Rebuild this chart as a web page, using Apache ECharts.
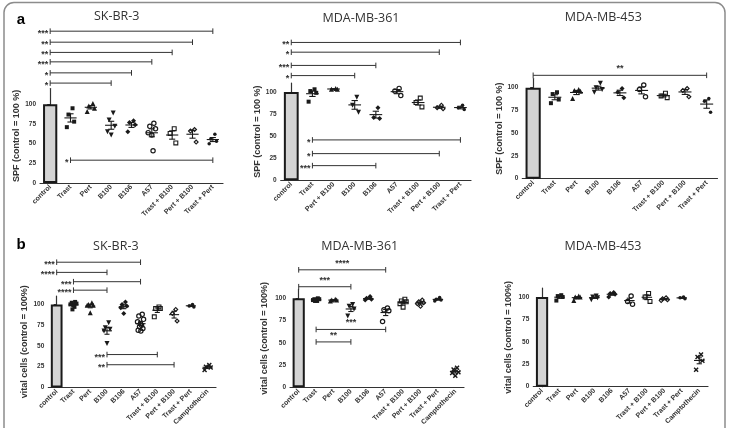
<!DOCTYPE html>
<html><head><meta charset="utf-8">
<script src="https://cdn.jsdelivr.net/npm/echarts@6/dist/echarts.min.js"></script>
<style>html,body{margin:0;padding:0;background:#fff}#c{width:729px;height:428px}</style>
</head><body><div id="c"></div>
<script>
// ---------- categories ----------
const catsSPF = ['control','Trast','Pert','B100','B106','A57','Trast + B100','Pert + B100','Trast + Pert'];
const catsSPF361 = ['control','Trast','Pert + B100','B100','B106','A57','Trast + B100','Pert + B100','Trast + Pert'];
const catsVital = ['control','Trast','Pert','B100','B106','A57','Trast + B100','Pert + B100','Trast + Pert','Camptothecin'];
const yTickValues = [0,25,50,75,100];
const controlValue = 100;

// ---------- replicate values per treatment (control excluded) ----------
const spfSKBR3 = [
  [95,87,78,71],
  [101,98,95,91],
  [89,80,72,65,61],
  [79,77,74,65],
  [76,72,69,64,61,41],
  [69,63,51],
  [68,66,52],
  [62,56,53,50]
];
const spfMDA361 = [
  [103,101,99,89],
  [104,103,103],
  [94,85,77],
  [82,71,70],
  [104,101,96],
  [93,88,83],
  [85,82,81],
  [85,82,80]
];
const spfMDA453 = [
  [95,93,87,83],
  [98,97,96,88],
  [105,100,98,95],
  [99,95,89],
  [103,98,90],
  [94,91,89],
  [99,97,90],
  [88,85,73]
];
const vitalSKBR3 = [
  [103,102,101,100,99,97,94],
  [102,100,99,99,90],
  [78,72,70,68,53],
  [103,100,98,96,89],
  [88,86,82,79,77,75,73,71,69,68],
  [97,95,95,85],
  [94,89,80],
  [100,98,97],
  [27,25,24,21]
];
const vitalMDA361 = [
  [100,99,99,98,98,97,97],
  [99,98,98,97],
  [93,91,88,80],
  [102,100,99,98],
  [89,87,86,74],
  [99,97,96,94,90],
  [98,96,95,94,91],
  [101,99,98,97],
  [22,20,17,16,13]
];
const vitalMDA453 = [
  [102,101,100,96],
  [101,100,100,96],
  [101,100,99,97],
  [105,104,103,100],
  [101,95,92],
  [104,100,95],
  [99,98,97,96],
  [100,99,98],
  [36,33,29,19]
];

// ---------- significance brackets: [from category, to category, level (axis units), stars] ----------
const sigSPF_SKBR3 = [[0,8,193,'***'],[0,7,179,'**'],[0,6,166,'**'],[0,5,154,'***'],[0,4,140,'*'],[0,3,127,'*'],[1,8,29,'*']];
const sigSPF_MDA361 = [[0,8,156,'**'],[0,7,145,'*'],[0,4,130,'***'],[0,3,118.5,'*'],[1,8,45.7,'*'],[1,7,30.2,'*'],[1,4,16.6,'***']];
const sigSPF_MDA453 = [[0,8,113.6,'**']];
const sigVital_SKBR3 = [[0,5,150,'***'],[0,3,138,'****'],[1,5,127,'***'],[1,3,117,'****'],[3,6,41,'***'],[3,7,29,'**']];
const sigVital_MDA361 = [[0,5,132,'****'],[0,3,113,'***'],[1,5,65,'***'],[1,3,51,'**']];
const sigVital_MDA453 = [];

// ---------- layout / style ----------
const panels = [
  {title:'SK-BR-3', cats:catsSPF, groups:spfSKBR3, sig:sigSPF_SKBR3, starMode:'left', yName:'SPF (control = 100 %)', max:120, left:40, right:223, y0:183, yTop:88.6, annTop:20, nameGap:17, tx:116.7, ty:16.2},
  {title:'MDA-MB-361', cats:catsSPF361, groups:spfMDA361, sig:sigSPF_MDA361, starMode:'left', yName:'SPF (control = 100 %)', max:110, left:280.7, right:471, y0:180.3, yTop:83.1, annTop:20, nameGap:18, tx:361, ty:18},
  {title:'MDA-MB-453', cats:catsSPF, groups:spfMDA453, sig:sigSPF_MDA453, starMode:'top', yName:'SPF (control = 100 %)', max:110, left:522.3, right:717.5, y0:178.7, yTop:78.6, annTop:20, nameGap:18, tx:603.3, ty:17.7},
  {title:'SK-BR-3', cats:catsVital, groups:vitalSKBR3, sig:sigVital_SKBR3, starMode:'left', yName:'vital cells (control = 100%)', max:110, left:48.3, right:216, y0:389.3, yTop:296.1, annTop:230, nameGap:19, tx:115.8, ty:246.7},
  {title:'MDA-MB-361', cats:catsVital, groups:vitalMDA361, sig:sigVital_MDA361, starMode:'top', yName:'vital cells (control = 100%)', max:110, left:290, right:464, y0:387.3, yTop:289.4, annTop:230, nameGap:21, tx:359.7, ty:246.7},
  {title:'MDA-MB-453', cats:catsVital, groups:vitalMDA453, sig:sigVital_MDA453, starMode:'top', yName:'vital cells (control = 100%)', max:110, left:533.3, right:708, y0:386.7, yTop:288, annTop:230, nameGap:20.5, tx:603, ty:246.7}
];
const symbols = [
  'rect',
  'triangle',
  'path://M0,0L10,0L5,9Z',
  'diamond',
  'path://M5,0A5,5 0 1,1 5,10A5,5 0 1,1 5,0ZM5,2.2A2.8,2.8 0 1,0 5,7.8A2.8,2.8 0 1,0 5,2.2Z',
  'path://M0,0H10V10H0ZM2.2,2.2V7.8H7.8V2.2Z',
  'path://M5,0L10,5L5,10L0,5ZM5,3L3,5L5,7L7,5Z',
  'circle',
  'path://M0,2L2,0L5,3L8,0L10,2L7,5L10,8L8,10L5,7L2,10L0,8L3,5Z'
];
const symbolSizes = [4,5,5,5,5.5,5,5.5,3.5,5];
const jitterCycle = [0.1,-0.1,0.18,-0.18,0,0.06,-0.06,0.14,-0.14,0.02];
const INK = '#1a1a1a';
const FONT = 'Liberation Sans';

const grid=[], xAxis=[], yAxis=[], series=[];
const graphic = [
  {type:'rect', silent:true, shape:{x:4,y:2.5,width:721,height:460,r:10}, style:{fill:'none', stroke:'#8c8c8c', lineWidth:1.5}},
  {type:'text', silent:true, x:21, y:19.5, style:{text:'a', font:'bold 15px "Liberation Sans"', fill:'#000', textAlign:'center', textVerticalAlign:'middle'}},
  {type:'text', silent:true, x:21, y:244.5, style:{text:'b', font:'bold 15px "Liberation Sans"', fill:'#000', textAlign:'center', textVerticalAlign:'middle'}}
];

panels.forEach((P) => {
  const n = P.cats.length;
  const gMain = grid.length;
  grid.push({left:P.left, top:P.yTop, width:P.right-P.left, height:P.y0-P.yTop});
  const gAnn = grid.length;
  grid.push({left:P.left, top:P.annTop, width:P.right-P.left, height:P.y0-P.annTop});
  const xCat = xAxis.length;
  xAxis.push({type:'category', gridIndex:gMain, data:P.cats,
    axisLine:{lineStyle:{color:'#333', width:1.2}},
    axisTick:{alignWithLabel:true, length:3, lineStyle:{color:'#333', width:1}},
    axisLabel:{rotate:45, interval:0, fontSize:7, fontWeight:'bold', color:'#333', margin:3, fontFamily:FONT}});
  const xVal = xAxis.length;
  xAxis.push({type:'value', gridIndex:gMain, min:-0.5, max:n-0.5, show:false});
  const xAnn = xAxis.length;
  xAxis.push({type:'value', gridIndex:gAnn, min:-0.5, max:n-0.5, show:false});
  const yMain = yAxis.length;
  yAxis.push({type:'value', gridIndex:gMain, min:0, max:P.max, interval:25,
    name:P.yName, nameLocation:'middle', nameGap:P.nameGap,
    nameTextStyle:{fontSize:9, fontWeight:'bold', color:'#333', fontFamily:FONT},
    axisLine:{show:true, lineStyle:{color:'#333', width:1.2}},
    axisTick:{show:true, length:3, customValues:yTickValues, lineStyle:{color:'#333'}},
    axisLabel:{customValues:yTickValues, fontSize:6.5, fontWeight:'bold', color:'#333', margin:4, fontFamily:FONT,
      formatter:(v)=> v<=100 ? String(v) : ''},
    splitLine:{show:false}});
  const yAnn = yAxis.length;
  const annMax = P.max*(P.y0-P.annTop)/(P.y0-P.yTop);
  yAxis.push({type:'value', gridIndex:gAnn, min:0, max:annMax, show:false});

  // control bar
  series.push({type:'bar', xAxisIndex:xCat, yAxisIndex:yMain, silent:true,
    data:P.cats.map((c,k)=> k===0 ? controlValue : '-'),
    barWidth:'70%', itemStyle:{color:'#d4d4d4', borderColor:INK, borderWidth:2}});

  // replicate points
  const pts = [];
  P.groups.forEach((g,k)=>{
    g.forEach((v,j)=>{
      pts.push({value:[k+1+jitterCycle[j%jitterCycle.length], v], symbol:symbols[k], symbolSize:symbolSizes[k]});
    });
  });
  series.push({type:'scatter', xAxisIndex:xVal, yAxisIndex:yMain, silent:true, data:pts,
    itemStyle:{color:INK, opacity:1}});

  // mean ± SEM
  const stats = P.groups.map((g,k)=>{
    const m = g.reduce((a,b)=>a+b,0)/g.length;
    const sd = Math.sqrt(g.reduce((a,b)=>a+(b-m)*(b-m),0)/(g.length-1));
    return [k+1, m, sd/Math.sqrt(g.length)];
  });
  series.push({type:'custom', xAxisIndex:xVal, yAxisIndex:yMain, silent:true, data:stats,
    renderItem:(params, api)=>{
      const x = api.value(0), m = api.value(1), s = api.value(2);
      const a = api.coord([x-0.3, m]), b = api.coord([x+0.3, m]);
      const t = api.coord([x, m+s]), d = api.coord([x, m-s]);
      const c1 = api.coord([x-0.15, m+s]), c2 = api.coord([x+0.15, m+s]);
      const c3 = api.coord([x-0.15, m-s]), c4 = api.coord([x+0.15, m-s]);
      const st = {stroke:INK, lineWidth:1.1};
      return {type:'group', children:[
        {type:'line', shape:{x1:a[0],y1:a[1],x2:b[0],y2:b[1]}, style:st},
        {type:'line', shape:{x1:t[0],y1:t[1],x2:d[0],y2:d[1]}, style:st},
        {type:'line', shape:{x1:c1[0],y1:c1[1],x2:c2[0],y2:c2[1]}, style:st},
        {type:'line', shape:{x1:c3[0],y1:c3[1],x2:c4[0],y2:c4[1]}, style:st}
      ]};
    }});

  // significance brackets
  if (P.sig.length) {
    const sig = P.sig;
    series.push({type:'custom', xAxisIndex:xAnn, yAxisIndex:yAnn, silent:true,
      data:sig.map(s=>[s[0], s[1], s[2]]),
      renderItem:(params, api)=>{
        const p1 = api.coord([api.value(0), api.value(2)]);
        const p2 = api.coord([api.value(1), api.value(2)]);
        const stars = sig[params.dataIndex][3];
        const st = {stroke:'#333', lineWidth:1};
        const txt = P.starMode==='left'
          ? {type:'text', style:{text:stars, x:p1[0]-2, y:p1[1]+2.5, textAlign:'right', textVerticalAlign:'middle', font:'bold 9px "Liberation Sans"', fill:'#333'}}
          : {type:'text', style:{text:stars, x:(p1[0]+p2[0])/2, y:p1[1]-2, textAlign:'center', textVerticalAlign:'bottom', font:'bold 9px "Liberation Sans"', fill:'#333'}};
        return {type:'group', children:[
          {type:'line', shape:{x1:p1[0],y1:p1[1],x2:p2[0],y2:p2[1]}, style:st},
          {type:'line', shape:{x1:p1[0],y1:p1[1]-2.8,x2:p1[0],y2:p1[1]+2.8}, style:st},
          {type:'line', shape:{x1:p2[0],y1:p2[1]-2.8,x2:p2[0],y2:p2[1]+2.8}, style:st},
          txt
        ]};
      }});
  }

  graphic.push({type:'text', silent:true, x:P.tx, y:P.ty,
    style:{text:P.title, font:'12.5px "Open Sans"', fill:'#333', textAlign:'center', textVerticalAlign:'middle'}});
});

const chart = echarts.init(document.getElementById('c'), null, {renderer:'canvas'});
chart.setOption({animation:false, backgroundColor:'#fff', grid, xAxis, yAxis, series, graphic});
</script>
</body></html>
